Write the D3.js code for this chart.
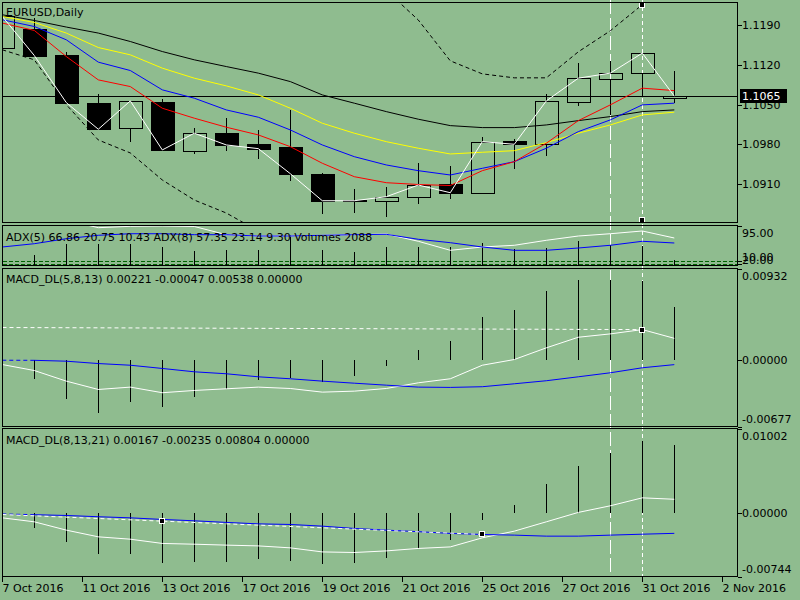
<!DOCTYPE html>
<html><head><meta charset="utf-8">
<script src="https://cdn.jsdelivr.net/npm/d3@7"></script>
<style>
body{margin:0;background:#8FBC8F;overflow:hidden}
svg{display:block;font-family:"DejaVu Sans",sans-serif;font-size:11px}
</style></head>
<body><svg id="c" width="800" height="600"></svg>
<script>
// ---------------- DATA ----------------
const dateLabels = ["7 Oct 2016","11 Oct 2016","13 Oct 2016","17 Oct 2016","19 Oct 2016","21 Oct 2016","25 Oct 2016","27 Oct 2016","31 Oct 2016","2 Nov 2016"];
const opens  = [1.11498,1.11833,1.11379,1.10526,1.10084,1.10549,1.09688,1.09996,1.09807,1.09754,1.09277,1.08812,1.08805,1.08876,1.09100,1.08946,1.09860,1.09801,1.10543,1.10960,1.11056,1.10610];
const highs  = [1.12174,1.12028,1.11437,1.10685,1.10570,1.10602,1.10084,1.10261,1.10054,1.10407,1.09294,1.09012,1.09042,1.09476,1.09423,1.09936,1.09890,1.10685,1.11243,1.11273,1.11409,1.11096];
const lows   = [1.11467,1.11361,1.10531,1.10060,1.09847,1.09701,1.09630,1.09683,1.09542,1.09153,1.08565,1.08582,1.08512,1.08747,1.08830,1.08923,1.09360,1.09600,1.10478,1.10319,1.10642,1.10526];
const closes = [1.12056,1.11367,1.10536,1.10066,1.10566,1.09701,1.09996,1.09789,1.09724,1.09282,1.08805,1.08805,1.08876,1.09082,1.08946,1.09847,1.09801,1.10566,1.10967,1.11056,1.11409,1.10650];
const maRed    = [1.11939,1.11809,1.11349,1.10937,1.10819,1.10437,1.10261,1.10102,1.09966,1.09759,1.09466,1.09229,1.09123,1.09091,1.09073,1.09335,1.09494,1.09819,1.10218,1.10496,1.10791,1.10748];
const maBlue   = [1.11998,1.11879,1.11644,1.11250,1.11102,1.10761,1.10614,1.10407,1.10278,1.10054,1.09789,1.09582,1.09436,1.09335,1.09259,1.09377,1.09494,1.09731,1.10024,1.10231,1.10496,1.10526];
const maYellow = [1.12056,1.11950,1.11763,1.11508,1.11379,1.11144,1.10967,1.10831,1.10672,1.10437,1.10172,1.09996,1.09847,1.09731,1.09630,1.09660,1.09688,1.09830,1.09996,1.10142,1.10319,1.10367];
const maBlack  = [1.12086,1.11985,1.11869,1.11763,1.11614,1.11437,1.11291,1.11172,1.11056,1.10907,1.10672,1.10526,1.10377,1.10243,1.10130,1.10095,1.10095,1.10142,1.10218,1.10289,1.10377,1.10407];
const bandUpper = [null,null,null,null,null,null,null,null,null,null,null,null,1.12517,1.11993,1.11273,1.11043,1.10973,1.10973,1.11432,1.11803,1.12263,null];
const bandLower = [1.11468,1.11291,1.10500,1.09877,1.09648,1.09171,1.08817,1.08588,1.08270,null,null,null,null,null,null,null,null,null,null,null,null,null];
const priceTicks = [1.0910,1.0980,1.1050,1.1120,1.1190];
const lastPrice = 1.1065;

const adxBlue  = [44.0,51.7,63.5,71.5,75.2,75.2,72.9,72.9,69.8,69.8,71.5,72.9,73.8,62.1,54.1,44.0,36.2,36.2,41.6,48.0,57.4,53.4];
const adxWhite = [104,108,107,89.4,92.6,93.4,92.2,72.9,69.8,69.8,71.5,72.9,74.5,57.4,36.2,44.0,48.0,59.7,69.8,75.2,81.6,65.1];
const volumes  = [null,4400,8640,8640,8640,7600,6000,6400,6400,12400,6400,5320,7320,7320,7320,9040,6640,6920,10000,8400,8000,2088];
const adxLevels = [10,4];
const adxTicks = ["95.00"];
const adxLowLabels = ["10.00","20.00"];

const macd1Main   = [-0.00046,-0.00107,-0.00215,-0.00300,-0.00276,-0.00333,-0.00310,-0.00293,-0.00276,-0.00290,-0.00327,-0.00317,-0.00290,-0.00232,-0.00191,-0.00053,0.00005,0.00124,0.00232,0.00266,0.00310,0.00221];
const macd1Signal = [-0.00002,-0.00003,-0.00012,-0.00036,-0.00053,-0.00086,-0.00120,-0.00140,-0.00171,-0.00191,-0.00215,-0.00236,-0.00256,-0.00276,-0.00279,-0.00272,-0.00242,-0.00211,-0.00171,-0.00130,-0.00079,-0.00047];
const macd1Hist   = [null,-0.00191,-0.00394,-0.00537,-0.00425,-0.00476,-0.00374,-0.00293,-0.00205,-0.00181,-0.00222,-0.00158,-0.00056,0.00097,0.00191,0.00435,0.00513,0.00699,0.00811,0.00811,0.00801,0.00538];
const macd1Range  = [-0.00677,0.00932];
const macd1Trend  = [[0,0.00331],[20,0.00310]];

const macd2Main   = [-0.00052,-0.00099,-0.00197,-0.00276,-0.00304,-0.00354,-0.00363,-0.00374,-0.00383,-0.00406,-0.00454,-0.00461,-0.00442,-0.00413,-0.00395,-0.00288,-0.00209,-0.00099,0.00012,0.00090,0.00184,0.00167];
const macd2Signal = [-0.00006,-0.00015,-0.00024,-0.00039,-0.00052,-0.00071,-0.00087,-0.00106,-0.00123,-0.00130,-0.00150,-0.00177,-0.00197,-0.00215,-0.00236,-0.00248,-0.00256,-0.00268,-0.00268,-0.00256,-0.00245,-0.00235];
const macd2Hist   = [null,-0.00170,-0.00335,-0.00484,-0.00484,-0.00579,-0.00572,-0.00572,-0.00532,-0.00560,-0.00602,-0.00579,-0.00525,-0.00406,-0.00315,-0.00079,0.00098,0.00346,0.00562,0.00709,0.00858,0.00804];
const macd2Range  = [-0.00744,0.01002];
const macd2Trend  = [[5,-0.00091],[15,-0.00248]];

const titleText = "EURUSD,Daily";
const adxText = "ADX(5) 66.86 20.75 10.43 ADX(8) 57.35 23.14 9.30 Volumes 2088";
const macd1Text = "MACD_DL(5,8,13) 0.00221 -0.00047 0.00538 0.00000";
const macd2Text = "MACD_DL(8,13,21) 0.00167 -0.00235 0.00804 0.00000";
const vLineBars = [19,20];

// ---------------- LAYOUT ----------------
const BG = "#8FBC8F";
const L = 2.5, R = 737.5;
const P = {main:[2.5,222.5], adx:[225.5,265.5], m1:[268.5,426.5], m2:[428.5,576.5]};
const svg = d3.select("#c");
const idx = d3.range(closes.length);
const x = d3.scaleLinear().domain([0,23]).range([2.3,738.3]);
const px = v => Math.round(v) + 0.5;

const yMain = d3.scaleLinear().domain([priceTicks[0], priceTicks[4]]).range([184, 25.3]);
const yAdx  = d3.scaleLinear().domain([0,95]).range([265.7,225.3]);
const yVol  = d3.scaleLinear().domain([0,16000]).range([265.5,225.5]);
const yM1   = d3.scaleLinear().domain(macd1Range).range([P.m1[1], P.m1[0]]);
const yM2   = d3.scaleLinear().domain(macd2Range).range([P.m2[1], P.m2[0]]);

svg.append("rect").attr("width",800).attr("height",600).attr("fill",BG);

const defs = svg.append("defs");
Object.entries(P).forEach(([k,[t,b]]) => {
  defs.append("clipPath").attr("id","clip-"+k).append("rect")
    .attr("x",L+0.5).attr("y",t+0.5).attr("width",R-L-1).attr("height",b-t-1);
});

// vertical line objects (background)
vLineBars.forEach((b,i) => {
  svg.append("line").attr("x1",px(x(b))).attr("x2",px(x(b))).attr("y1",0).attr("y2",P.m2[1])
    .attr("stroke","#fff").attr("stroke-dasharray", i===0 ? "14,4" : "4,3")
    .attr("shape-rendering","crispEdges");
});

// ---------------- MAIN PANEL ----------------
const gMain = svg.append("g").attr("clip-path","url(#clip-main)");
// candles
idx.forEach(i => {
  const o = opens[i], c = closes[i], h = highs[i], l = lows[i];
  const top = yMain(Math.max(o,c)), bot = yMain(Math.min(o,c));
  const cx = px(x(i));
  const bull = c >= o;
  const bt = Math.round(top) + 0.5, bb = Math.max(bt + 1, Math.round(bot) + 0.5);
  gMain.append("line").attr("x1",cx).attr("x2",cx).attr("y1",yMain(h)).attr("y2",bt)
    .attr("stroke","#000").attr("shape-rendering","crispEdges");
  gMain.append("line").attr("x1",cx).attr("x2",cx).attr("y1",bb).attr("y2",yMain(l))
    .attr("stroke","#000").attr("shape-rendering","crispEdges");
  gMain.append("rect").attr("x",cx-11.5).attr("y",bt).attr("width",23).attr("height",bb-bt)
    .attr("fill", bull ? "none" : "#000").attr("stroke","#000").attr("shape-rendering","crispEdges");
});
// current price line
gMain.append("line").attr("x1",L).attr("x2",R).attr("y1",px(yMain(lastPrice))).attr("y2",px(yMain(lastPrice)))
  .attr("stroke","#000").attr("shape-rendering","crispEdges");

const lineMain = d3.line().defined(d => d[1] != null).x(d => x(d[0])).y(d => yMain(d[1]));
const drawMain = (arr, color, dash) => gMain.append("path")
  .attr("d", lineMain(arr.map((v,i)=>[i,v]))).attr("fill","none").attr("stroke",color)
  .attr("stroke-width",1).attr("stroke-dasharray",dash || null);
drawMain(maBlack,"#000");
drawMain(maYellow,"#ffff00");
drawMain(maBlue,"#0000ff");
drawMain(maRed,"#ff0000");
drawMain(closes,"#ffffff");
drawMain(bandUpper,"#000","4,3");
drawMain(bandLower,"#000","4,3");

function marker(xx, yy) {
  svg.append("rect").attr("x",Math.round(xx)-2.5).attr("y",Math.round(yy)-2.5).attr("width",5).attr("height",5)
    .attr("fill","#000").attr("stroke","#fff").attr("shape-rendering","crispEdges");
}
marker(x(vLineBars[1]), 5);
marker(x(vLineBars[1]), 220);

svg.append("text").attr("x",6).attr("y",16).text(titleText);

// ---------------- ADX PANEL ----------------
const gAdx = svg.append("g").attr("clip-path","url(#clip-adx)");
svg.append("text").attr("x",6).attr("y",240.5).text(adxText);
adxLevels.forEach(v => gAdx.append("line").attr("x1",L).attr("x2",R)
  .attr("y1",px(yAdx(v))).attr("y2",px(yAdx(v))).attr("stroke","#006400")
  .attr("stroke-dasharray","4,2").attr("shape-rendering","crispEdges"));
idx.forEach(i => { if (volumes[i] == null) return;
  gAdx.append("line").attr("x1",px(x(i))).attr("x2",px(x(i)))
    .attr("y1",yVol(0)).attr("y2",yVol(volumes[i])).attr("stroke","#000").attr("shape-rendering","crispEdges");
});
const lineAdx = d3.line().x(d=>x(d[0])).y(d=>yAdx(d[1]));
gAdx.append("path").attr("d",lineAdx(adxWhite.map((v,i)=>[i,v]))).attr("fill","none").attr("stroke","#fff");
gAdx.append("path").attr("d",lineAdx(adxBlue.map((v,i)=>[i,v]))).attr("fill","none").attr("stroke","#0000ff");

// ---------------- MACD PANELS ----------------
function macdPanel(key, y, main, signal, hist, trend, label, labelY) {
  const g = svg.append("g").attr("clip-path","url(#clip-"+key+")");
  svg.append("text").attr("x",6).attr("y",labelY).text(label);
  idx.forEach(i => { if (hist[i] == null) return;
    g.append("line").attr("x1",px(x(i))).attr("x2",px(x(i))).attr("y1",y(0)).attr("y2",y(hist[i]))
      .attr("stroke","#000").attr("shape-rendering","crispEdges");
  });
  const ln = d3.line().x(d=>x(d[0])).y(d=>y(d[1]));
  g.append("path").attr("d",ln(main.map((v,i)=>[i,v]))).attr("fill","none").attr("stroke","#fff");
  g.append("path").attr("d",ln(signal.map((v,i)=>[i,v]).slice(1))).attr("fill","none").attr("stroke","#0000ff");
  g.append("path").attr("d",ln(signal.map((v,i)=>[i,v]).slice(0,2))).attr("fill","none").attr("stroke","#0000ff").attr("stroke-dasharray","4,3");
  // trend line: from left edge to second anchor
  const [a,b] = trend;
  const slope = (y(b[1]) - y(a[1])) / (x(b[0]) - x(a[0]));
  const x0 = L, y0 = y(a[1]) + slope * (x0 - x(a[0]));
  g.append("line").attr("x1",x0).attr("y1",y0).attr("x2",x(b[0])).attr("y2",y(b[1]))
    .attr("stroke","#fff").attr("stroke-dasharray","4,3");
  return [a,b].map(p => [x(p[0]), y(p[1])]);
}
const mk1 = macdPanel("m1", yM1, macd1Main, macd1Signal, macd1Hist, macd1Trend, macd1Text, 282.5);
const mk2 = macdPanel("m2", yM2, macd2Main, macd2Signal, macd2Hist, macd2Trend, macd2Text, 443.5);
marker(mk1[1][0], mk1[1][1]);
marker(mk2[0][0], mk2[0][1]);
marker(mk2[1][0], mk2[1][1]);

// ---------------- PANEL FRAMES ----------------
Object.values(P).forEach(([t,b]) => {
  svg.append("rect").attr("x",L).attr("y",t).attr("width",R-L).attr("height",b-t)
    .attr("fill","none").attr("stroke","#000").attr("shape-rendering","crispEdges");
});

// ---------------- RIGHT AXES ----------------
const tick = yy => svg.append("line").attr("x1",R).attr("x2",R+4.5).attr("y1",px(yy)).attr("y2",px(yy))
  .attr("stroke","#000").attr("shape-rendering","crispEdges");
const rlabel = (yy, txt, fill) => svg.append("text").attr("x",742).attr("y",yy+4).attr("fill",fill||"#000").text(txt);

priceTicks.forEach(v => { tick(yMain(v)); rlabel(yMain(v), v.toFixed(4)); });
// last price box
const yl = yMain(lastPrice);
svg.append("rect").attr("x",740).attr("y",Math.round(yl)-7).attr("width",47).attr("height",14).attr("fill","#000");
rlabel(yl, lastPrice.toFixed(4), "#fff");

// ADX axis
tick(P.adx[0]); rlabel(P.adx[0]+7.5, adxTicks[0]);
adxLevels.forEach(v => tick(yAdx(v)));
adxLowLabels.forEach((t,i) => rlabel(257 + i*2.5, t));

// MACD axes
[[P.m1, yM1, macd1Range],[P.m2, yM2, macd2Range]].forEach(([p, y, rng]) => {
  tick(p[0]); tick(y(0)); tick(p[1]);
  rlabel(p[0]+7, rng[1].toFixed(5));
  rlabel(y(0), (0).toFixed(5));
  rlabel(p[1]-7.5, rng[0].toFixed(5));
});

// ---------------- TIME AXIS ----------------
dateLabels.forEach((t,j) => {
  const xx = px(x(2.5*j));
  svg.append("line").attr("x1",xx).attr("x2",xx).attr("y1",P.m2[1]).attr("y2",581.5)
    .attr("stroke","#000").attr("shape-rendering","crispEdges");
  svg.append("text").attr("x",xx).attr("y",591.5).text(t);
});
</script>
</body></html>
